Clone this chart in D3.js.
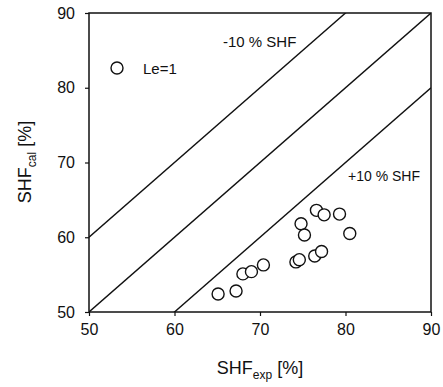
<!DOCTYPE html>
<html>
<head>
<meta charset="utf-8">
<script src="https://cdn.jsdelivr.net/npm/d3@7"></script>
<style>
  body { margin: 0; background: #fff; }
  text { font-family: "Liberation Sans", Arial, sans-serif; fill: #111; }
</style>
</head>
<body>
<div id="chart"></div>
<script>
const shfExp = [65.1, 67.2, 68.0, 69.0, 70.4, 74.2, 74.6, 76.4, 77.2, 74.8, 75.2, 76.6, 77.5, 79.3, 80.5];
const shfCal = [52.4, 52.8, 55.1, 55.4, 56.3, 56.7, 57.0, 57.5, 58.1, 61.8, 60.3, 63.6, 63.0, 63.1, 60.5];
const tickVals = [50, 60, 70, 80, 90];
const offsets = [10, 0, -10]; // reference lines y = x + offset

function drawChart(id) {
  let width = 443, height = 387;
  let left = 89, right = 431, top = 13, bottom = 312;

  let x = d3.scaleLinear().domain([50, 90]).range([left, right]);
  let y = d3.scaleLinear().domain([50, 90]).range([bottom, top]);

  let svg = d3.select(`#${id}`).append("svg").attr("width", width).attr("height", height);

  svg.append("clipPath").attr("id", "clip")
    .append("rect").attr("x", left).attr("y", top)
    .attr("width", right - left).attr("height", bottom - top);

  // reference lines
  let g = svg.append("g").attr("clip-path", "url(#clip)");
  for (let off of offsets) {
    g.append("line")
      .attr("x1", x(50)).attr("y1", y(50 + off))
      .attr("x2", x(90)).attr("y2", y(90 + off))
      .attr("stroke", "#111").attr("stroke-width", 1.4);
  }

  // frame
  svg.append("rect")
    .attr("x", left).attr("y", top)
    .attr("width", right - left).attr("height", bottom - top)
    .attr("fill", "none").attr("stroke", "#111").attr("stroke-width", 1.5);

  // axes
  let xAxis = svg.append("g").attr("transform", `translate(0,${bottom})`)
    .call(d3.axisBottom(x).tickValues(tickVals).tickSize(4).tickPadding(8));
  let yAxis = svg.append("g").attr("transform", `translate(${left},0)`)
    .call(d3.axisLeft(y).tickValues(tickVals).tickSize(4).tickPadding(10));
  [xAxis, yAxis].forEach(a => {
    a.select(".domain").remove();
    a.selectAll("line").attr("stroke", "#111").attr("stroke-width", 1.2);
    a.selectAll("text").attr("font-size", 16).style("font-family", "Liberation Sans, Arial, sans-serif");
  });

  // points
  svg.append("g").selectAll("circle")
    .data(shfExp)
    .join("circle")
    .attr("cx", d => x(d))
    .attr("cy", (d, i) => y(shfCal[i]))
    .attr("r", 6)
    .attr("fill", "#fff")
    .attr("stroke", "#111")
    .attr("stroke-width", 1.4);

  // legend
  svg.append("circle").attr("cx", 117).attr("cy", 68).attr("r", 6)
    .attr("fill", "#fff").attr("stroke", "#111").attr("stroke-width", 1.4);
  svg.append("text").attr("x", 143).attr("y", 74).attr("font-size", 15).text("Le=1");

  // line labels
  svg.append("text").attr("x", 223).attr("y", 47).attr("font-size", 15).text("-10 % SHF");
  svg.append("text").attr("x", 348).attr("y", 181).attr("font-size", 14).text("+10 % SHF");

  // axis titles
  let xt = svg.append("text").attr("x", 260).attr("y", 374).attr("text-anchor", "middle").attr("font-size", 18);
  xt.append("tspan").text("SHF");
  xt.append("tspan").attr("font-size", 12).attr("dy", 5).text("exp");
  xt.append("tspan").attr("dy", -5).text("  [%]");

  let yt = svg.append("text")
    .attr("transform", "translate(31,162) rotate(-90)")
    .attr("text-anchor", "middle").attr("font-size", 18);
  yt.append("tspan").text("SHF");
  yt.append("tspan").attr("font-size", 12).attr("dy", 5).text("cal");
  yt.append("tspan").attr("dy", -5).text("  [%]");
}

drawChart("chart");
</script>
</body>
</html>
